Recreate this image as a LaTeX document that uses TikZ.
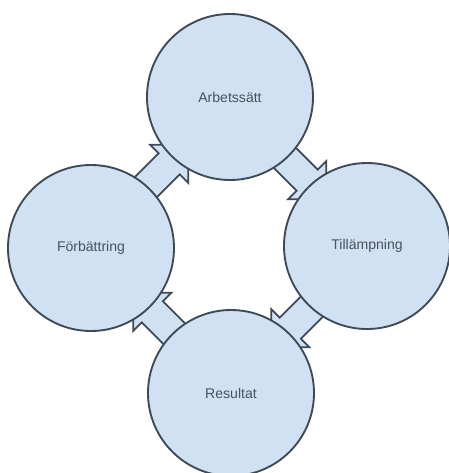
\documentclass[tikz,border=0pt]{standalone}
\usepackage{fontspec}
\setmainfont{Liberation Sans}
\usepackage{xcolor}
\usetikzlibrary{shapes.arrows,calc,backgrounds}
\definecolor{ringfill}{HTML}{CFE1F3}
\definecolor{ringline}{HTML}{3E4A56}
\definecolor{ringtext}{HTML}{4A525C}
\tikzset{
  ring/.style={draw=ringline, line width=1.6pt, fill=ringfill, circle,
    minimum size=4.98cm, inner sep=0pt, text=ringtext,
    font=\fontsize{12}{14}\selectfont},
  pil/.style={draw=ringline, line width=1.5pt, fill=ringfill, single arrow,
    inner sep=0.42cm, single arrow head extend=0.36cm, minimum height=1.9cm}
}

\begin{document}
\begin{tikzpicture}[x=0.03cm, y=-0.03cm]
            \useasboundingbox (0,0) rectangle (449,473);
            \node (arb) [ring] at (230,97) {Arbetssätt};
            \node (till) [ring] at (367,246) {Tillämpning};
            \node (res) [ring] at (231,393) {Resultat};
            \node (forb) [ring] at (91,248) {Förbättring};

            \begin{scope}[on background layer]
            \node (p1) [pil, rotate=45] at ($(forb)!0.5!(arb)$) {};
            \node (p2) [pil, rotate=-45] at ($(arb)!0.5!(till)$) {};
            \node (p3) [pil, rotate=-135] at ($(till)!0.5!(res)$) {};
            \node (p4) [pil, rotate=135] at ($(res)!0.5!(forb)$) {};
            \end{scope}
        \end{tikzpicture}
\end{document}
